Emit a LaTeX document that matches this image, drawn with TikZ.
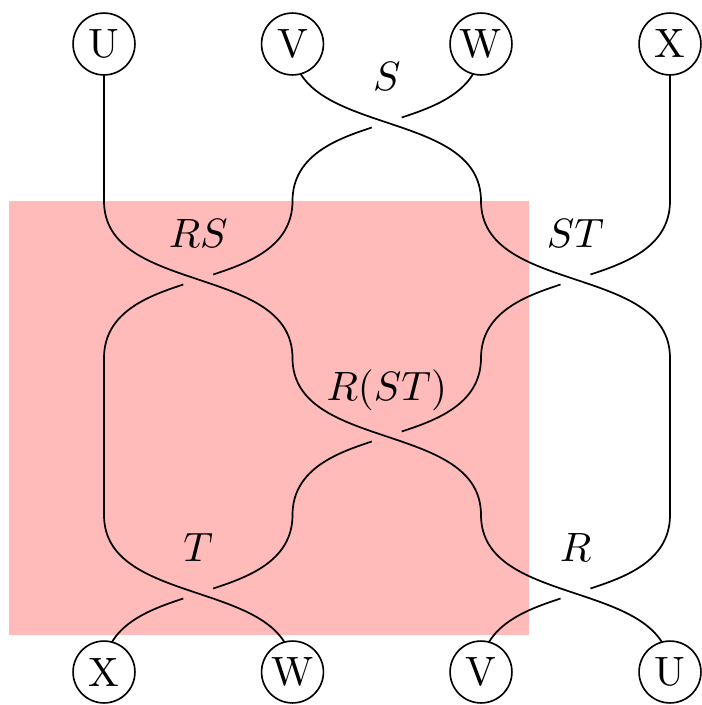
\documentclass[tikz,border=0pt]{standalone}
\usetikzlibrary{backgrounds}
\begin{document}
\begin{tikzpicture}[x=0.244pt,y=-0.244pt,
  vtx/.style={draw,circle,fill=white,minimum size=15.1pt,inner sep=0pt,line width=0.4pt},
  strand/.style={line width=0.42pt},
  underin/.style={strand,shorten >=3.85pt},
  underout/.style={strand,shorten <=3.85pt},
  lbl/.style={inner sep=0pt}]
\useasboundingbox (0,0) rectangle (702,705);
% grid points
\coordinate (p11) at (104,201);   \coordinate (p21) at (292.5,201);
\coordinate (p31) at (481,201);   \coordinate (p41) at (670,201);
\coordinate (p12) at (104,358);   \coordinate (p22) at (292.5,358);
\coordinate (p32) at (481,358);   \coordinate (p42) at (670,358);
\coordinate (p13) at (104,515);   \coordinate (p23) at (292.5,515);
\coordinate (p33) at (481,515);   \coordinate (p43) at (670,515);
% crossing centres
\coordinate (cS)   at (386.75,122.5);
\coordinate (cRS)  at (198.25,279.5);
\coordinate (cST)  at (575.5,279.5);
\coordinate (cRST) at (386.75,436.5);
\coordinate (cT)   at (198.25,593.5);
\coordinate (cR)   at (575.5,593.5);
% nodes
\node[vtx] (tU) at (104,44) {U};
\node[vtx] (tV) at (292.5,44) {V};
\node[vtx] (tW) at (481,44) {W};
\node[vtx] (tX) at (670,44) {X};
\node[vtx] (bX) at (104,672) {X};
\node[vtx] (bW) at (292.5,672) {W};
\node[vtx] (bV) at (481,672) {V};
\node[vtx] (bU) at (670,672) {U};
% labels
\node[lbl] (lS)   at ([yshift=46*0.244pt]cS)   {$S$};
\node[lbl] (lRS)  at ([yshift=46*0.244pt]cRS)  {$RS$};
\node[lbl] (lST)  at ([yshift=46*0.244pt]cST)  {$ST$};
\node[lbl] (lRST) at ([yshift=46*0.244pt]cRST) {$R(ST)$};
\node[lbl] (lT)   at ([yshift=46*0.244pt]cT)   {$T$};
\node[lbl] (lR)   at ([yshift=46*0.244pt]cR)   {$R$};
\begin{scope}[on background layer]
\fill[red!27] (9,201) rectangle (529,635);
% level 0 -> 1
\draw[strand] (tU.center) -- (p11);
\draw[strand] (tX.center) -- (p41);
\draw[strand] (tV.center) .. controls +(0,94) and +(0,-94) .. (p31);
\draw[underin] (tW.center) .. controls +(0,47) and +(47.25,-15.75) .. (cS);
\draw[underout] (cS) .. controls +(-47.25,15.75) and +(0,-47) .. (p21);
% level 1 -> 2
\draw[strand] (p11) .. controls +(0,94) and +(0,-94) .. (p22);
\draw[underin] (p21) .. controls +(0,47) and +(47.25,-15.75) .. (cRS);
\draw[underout] (cRS) .. controls +(-47.25,15.75) and +(0,-47) .. (p12);
\draw[strand] (p31) .. controls +(0,94) and +(0,-94) .. (p42);
\draw[underin] (p41) .. controls +(0,47) and +(47.25,-15.75) .. (cST);
\draw[underout] (cST) .. controls +(-47.25,15.75) and +(0,-47) .. (p32);
% level 2 -> 3
\draw[strand] (p12) -- (p13);
\draw[strand] (p42) -- (p43);
\draw[strand] (p22) .. controls +(0,94) and +(0,-94) .. (p33);
\draw[underin] (p32) .. controls +(0,47) and +(47.25,-15.75) .. (cRST);
\draw[underout] (cRST) .. controls +(-47.25,15.75) and +(0,-47) .. (p23);
% level 3 -> 4
\draw[strand] (p13) .. controls +(0,94) and +(0,-94) .. (bW.center);
\draw[underin] (p23) .. controls +(0,47) and +(47.25,-15.75) .. (cT);
\draw[underout] (cT) .. controls +(-47.25,15.75) and +(0,-47) .. (bX.center);
\draw[strand] (p33) .. controls +(0,94) and +(0,-94) .. (bU.center);
\draw[underin] (p43) .. controls +(0,47) and +(47.25,-15.75) .. (cR);
\draw[underout] (cR) .. controls +(-47.25,15.75) and +(0,-47) .. (bV.center);
\end{scope}
\end{tikzpicture}
\end{document}
